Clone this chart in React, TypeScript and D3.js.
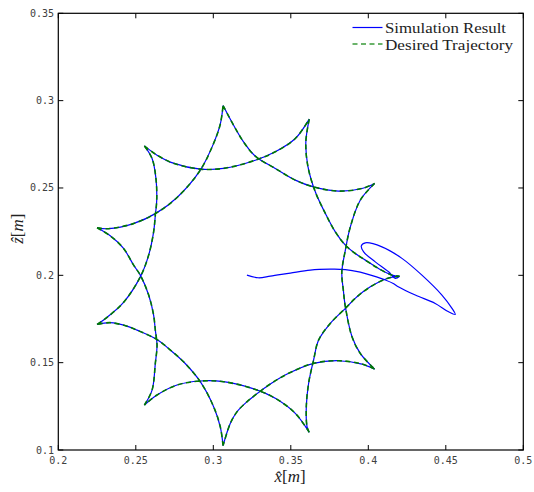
import React from 'react';
import * as d3 from 'd3';

// axis ticks
const xTicks = [0.2, 0.25, 0.3, 0.35, 0.4, 0.45, 0.5];
const xTickLabels = ['0.2', '0.25', '0.3', '0.35', '0.4', '0.45', '0.5'];
const yTicks = [0.1, 0.15, 0.2, 0.25, 0.3, 0.35];
const yTickLabels = ['0.1', '0.15', '0.2', '0.25', '0.3', '0.35'];

// desired trajectory, one arc (cusp to cusp) at a time
const arcC0C9 = [[0.4202, 0.1995], [0.4121, 0.1982], [0.4013, 0.1934], [0.3927, 0.1877], [0.3852, 0.1811], [0.3755, 0.1725], [0.3679, 0.1629], [0.3647, 0.1515], [0.3615, 0.1382], [0.36, 0.1248], [0.3605, 0.1133], [0.3619, 0.1101]];
const arcC9C7 = [[0.3619, 0.1101], [0.3529, 0.121], [0.34, 0.1296], [0.3271, 0.1347], [0.3066, 0.1391], [0.2916, 0.1395], [0.2766, 0.1372], [0.2637, 0.1315], [0.2555, 0.1257]];
const arcC7C5 = [[0.2555, 0.1257], [0.2605, 0.1343], [0.2626, 0.1496], [0.2637, 0.1601], [0.2626, 0.1686], [0.2615, 0.1772], [0.2583, 0.1887], [0.2529, 0.2001], [0.2486, 0.2058], [0.2421, 0.2154], [0.2335, 0.2226], [0.225, 0.2272]];
const arcC5C3 = [[0.225, 0.2272], [0.2323, 0.2267], [0.2484, 0.2296], [0.2632, 0.2356], [0.2768, 0.2447], [0.2916, 0.2602], [0.3, 0.2751], [0.3045, 0.2865], [0.3063, 0.2972]];
const arcC3C1 = [[0.3063, 0.2972], [0.3131, 0.2859], [0.3195, 0.2764], [0.3271, 0.2682], [0.34, 0.2612], [0.3529, 0.2545], [0.3647, 0.2506], [0.3808, 0.2482], [0.3959, 0.2497], [0.4041, 0.2526]];
const arcC1C10 = [[0.4041, 0.2526], [0.3948, 0.243], [0.3884, 0.2277], [0.3852, 0.2144], [0.3829, 0.2018], [0.3839, 0.1915], [0.3852, 0.182], [0.3895, 0.1648], [0.3948, 0.1553], [0.4041, 0.1463]];
const arcC10C8 = [[0.4041, 0.1463], [0.3959, 0.1492], [0.3808, 0.1511], [0.3647, 0.1496], [0.3486, 0.1439], [0.3368, 0.1378], [0.3271, 0.1315], [0.3217, 0.1276], [0.3153, 0.1219], [0.311, 0.1153], [0.3063, 0.1025]];
const arcC8C6 = [[0.3063, 0.1025], [0.3045, 0.1133], [0.3002, 0.1248], [0.2916, 0.1391], [0.2808, 0.1505], [0.2723, 0.1572], [0.2637, 0.1632], [0.2508, 0.1686], [0.2443, 0.1709], [0.2335, 0.1729], [0.225, 0.1719]];
const arcC6C4 = [[0.225, 0.1719], [0.2314, 0.1759], [0.2421, 0.1845], [0.2529, 0.1991], [0.2583, 0.2116], [0.2615, 0.2249], [0.2626, 0.2344], [0.2635, 0.243], [0.263, 0.2554], [0.2605, 0.2669], [0.2555, 0.2741]];
const arcC4C2 = [[0.2555, 0.2741], [0.2637, 0.2688], [0.2742, 0.2642], [0.2916, 0.2608], [0.3065, 0.2612], [0.3271, 0.2659], [0.34, 0.2707], [0.3529, 0.2783], [0.3619, 0.2894]];
const arcC2C0 = [[0.3619, 0.2894], [0.3597, 0.2762], [0.361, 0.2625], [0.3658, 0.2478], [0.3723, 0.2354], [0.3787, 0.2249], [0.3852, 0.2173], [0.3916, 0.2125], [0.3981, 0.2087], [0.4066, 0.2039], [0.4153, 0.2001], [0.4202, 0.1995]];

const desiredArcs = [arcC0C9, arcC9C7, arcC7C5, arcC5C3, arcC3C1, arcC1C10, arcC10C8, arcC8C6, arcC6C4, arcC4C2, arcC2C0];

// simulation: start-up transient before it locks onto the trajectory
const simStart = [[0.3217, 0.2001], [0.329, 0.1986], [0.3368, 0.1995], [0.3497, 0.2013], [0.3626, 0.203], [0.3755, 0.2035], [0.3852, 0.2033], [0.3948, 0.2018], [0.4026, 0.1998], [0.411, 0.1973], [0.4161, 0.1953], [0.4187, 0.1938], [0.4303, 0.1887], [0.4432, 0.1839], [0.4518, 0.1791], [0.4561, 0.1776], [0.454, 0.1811], [0.4475, 0.1887], [0.4346, 0.2001], [0.4217, 0.2097], [0.4088, 0.2163], [0.3981, 0.2186], [0.3955, 0.2169], [0.397, 0.2134], [0.4045, 0.2077], [0.4131, 0.202], [0.4174, 0.1982], [0.4202, 0.1995]];

const W = 534;
const H = 492;
const left = 58.3, right = 523.3, top = 13.3, bottom = 450;

const App = () => {
    const x = d3.scaleLinear().domain([0.2, 0.5]).range([left, right]);
    const y = d3.scaleLinear().domain([0.1, 0.35]).range([bottom, top]);

    const line = d3.line<number[]>()
        .x(d => x(d[0]))
        .y(d => y(d[1]))
        .curve(d3.curveCatmullRom.alpha(0.5));

    // each arc is its own sub-path so the cusps stay sharp
    const desiredPath = desiredArcs.map(a => line(a)).join('');
    const simPath = line(simStart) + desiredPath;

    const tickLen = 5;
    const mono = '"DejaVu Sans Mono", monospace';
    const serif = '"Liberation Serif", serif';

    return (
        <svg width={W} height={H} style={{ position: 'absolute', left: 0, top: 0, background: '#fff' }}>
            <rect x={0} y={0} width={W} height={H} fill="#fff" />

            <path d={simPath} fill="none" stroke="#0000ff" strokeWidth={1.2} strokeLinejoin="round" />
            <path d={desiredPath} fill="none" stroke="#007a00" strokeWidth={1.6} strokeDasharray="5,3.5" />

            {/* ticks on all four sides, pointing in */}
            {xTicks.map((t, i) => (
                <g key={'x' + i}>
                    <line x1={x(t)} x2={x(t)} y1={bottom} y2={bottom - tickLen} stroke="#000" />
                    <line x1={x(t)} x2={x(t)} y1={top} y2={top + tickLen} stroke="#000" />
                    <text x={x(t)} y={464} textAnchor="middle" fontFamily={mono} fontSize={10} fill="#404040">{xTickLabels[i]}</text>
                </g>
            ))}
            {yTicks.map((t, i) => (
                <g key={'y' + i}>
                    <line x1={left} x2={left + tickLen} y1={y(t)} y2={y(t)} stroke="#000" />
                    <line x1={right} x2={right - tickLen} y1={y(t)} y2={y(t)} stroke="#000" />
                    <text x={54} y={y(t) + 3.5} textAnchor="end" fontFamily={mono} fontSize={10} fill="#404040">{yTickLabels[i]}</text>
                </g>
            ))}
            <rect x={left} y={top} width={right - left} height={bottom - top} fill="none" stroke="#000" strokeWidth={1.2} />

            {/* axis labels */}
            <text x={290} y={482} textAnchor="middle" fontFamily={serif} fontSize={17} fill="#222">
                <tspan fontStyle="italic">x̂</tspan><tspan>[</tspan><tspan fontStyle="italic">m</tspan><tspan>]</tspan>
            </text>
            <text transform={`translate(23, ${(top + bottom) / 2 - 3}) rotate(-90)`} textAnchor="middle" fontFamily={serif} fontSize={17} fill="#222">
                <tspan fontStyle="italic">ẑ</tspan><tspan>[</tspan><tspan fontStyle="italic">m</tspan><tspan>]</tspan>
            </text>

            {/* legend */}
            <line x1={352.5} x2={382.5} y1={27.5} y2={27.5} stroke="#0000ff" strokeWidth={1.2} />
            <line x1={352.5} x2={382.5} y1={44} y2={44} stroke="#3a9a3a" strokeWidth={1.4} strokeDasharray="5,3.5" />
            <text x={385} y={33} fontFamily={serif} fontSize={15} textLength={121} lengthAdjust="spacingAndGlyphs" fill="#222">Simulation Result</text>
            <text x={385} y={49.5} fontFamily={serif} fontSize={15} textLength={128} lengthAdjust="spacingAndGlyphs" fill="#222">Desired Trajectory</text>
        </svg>
    );
};

export default App;
